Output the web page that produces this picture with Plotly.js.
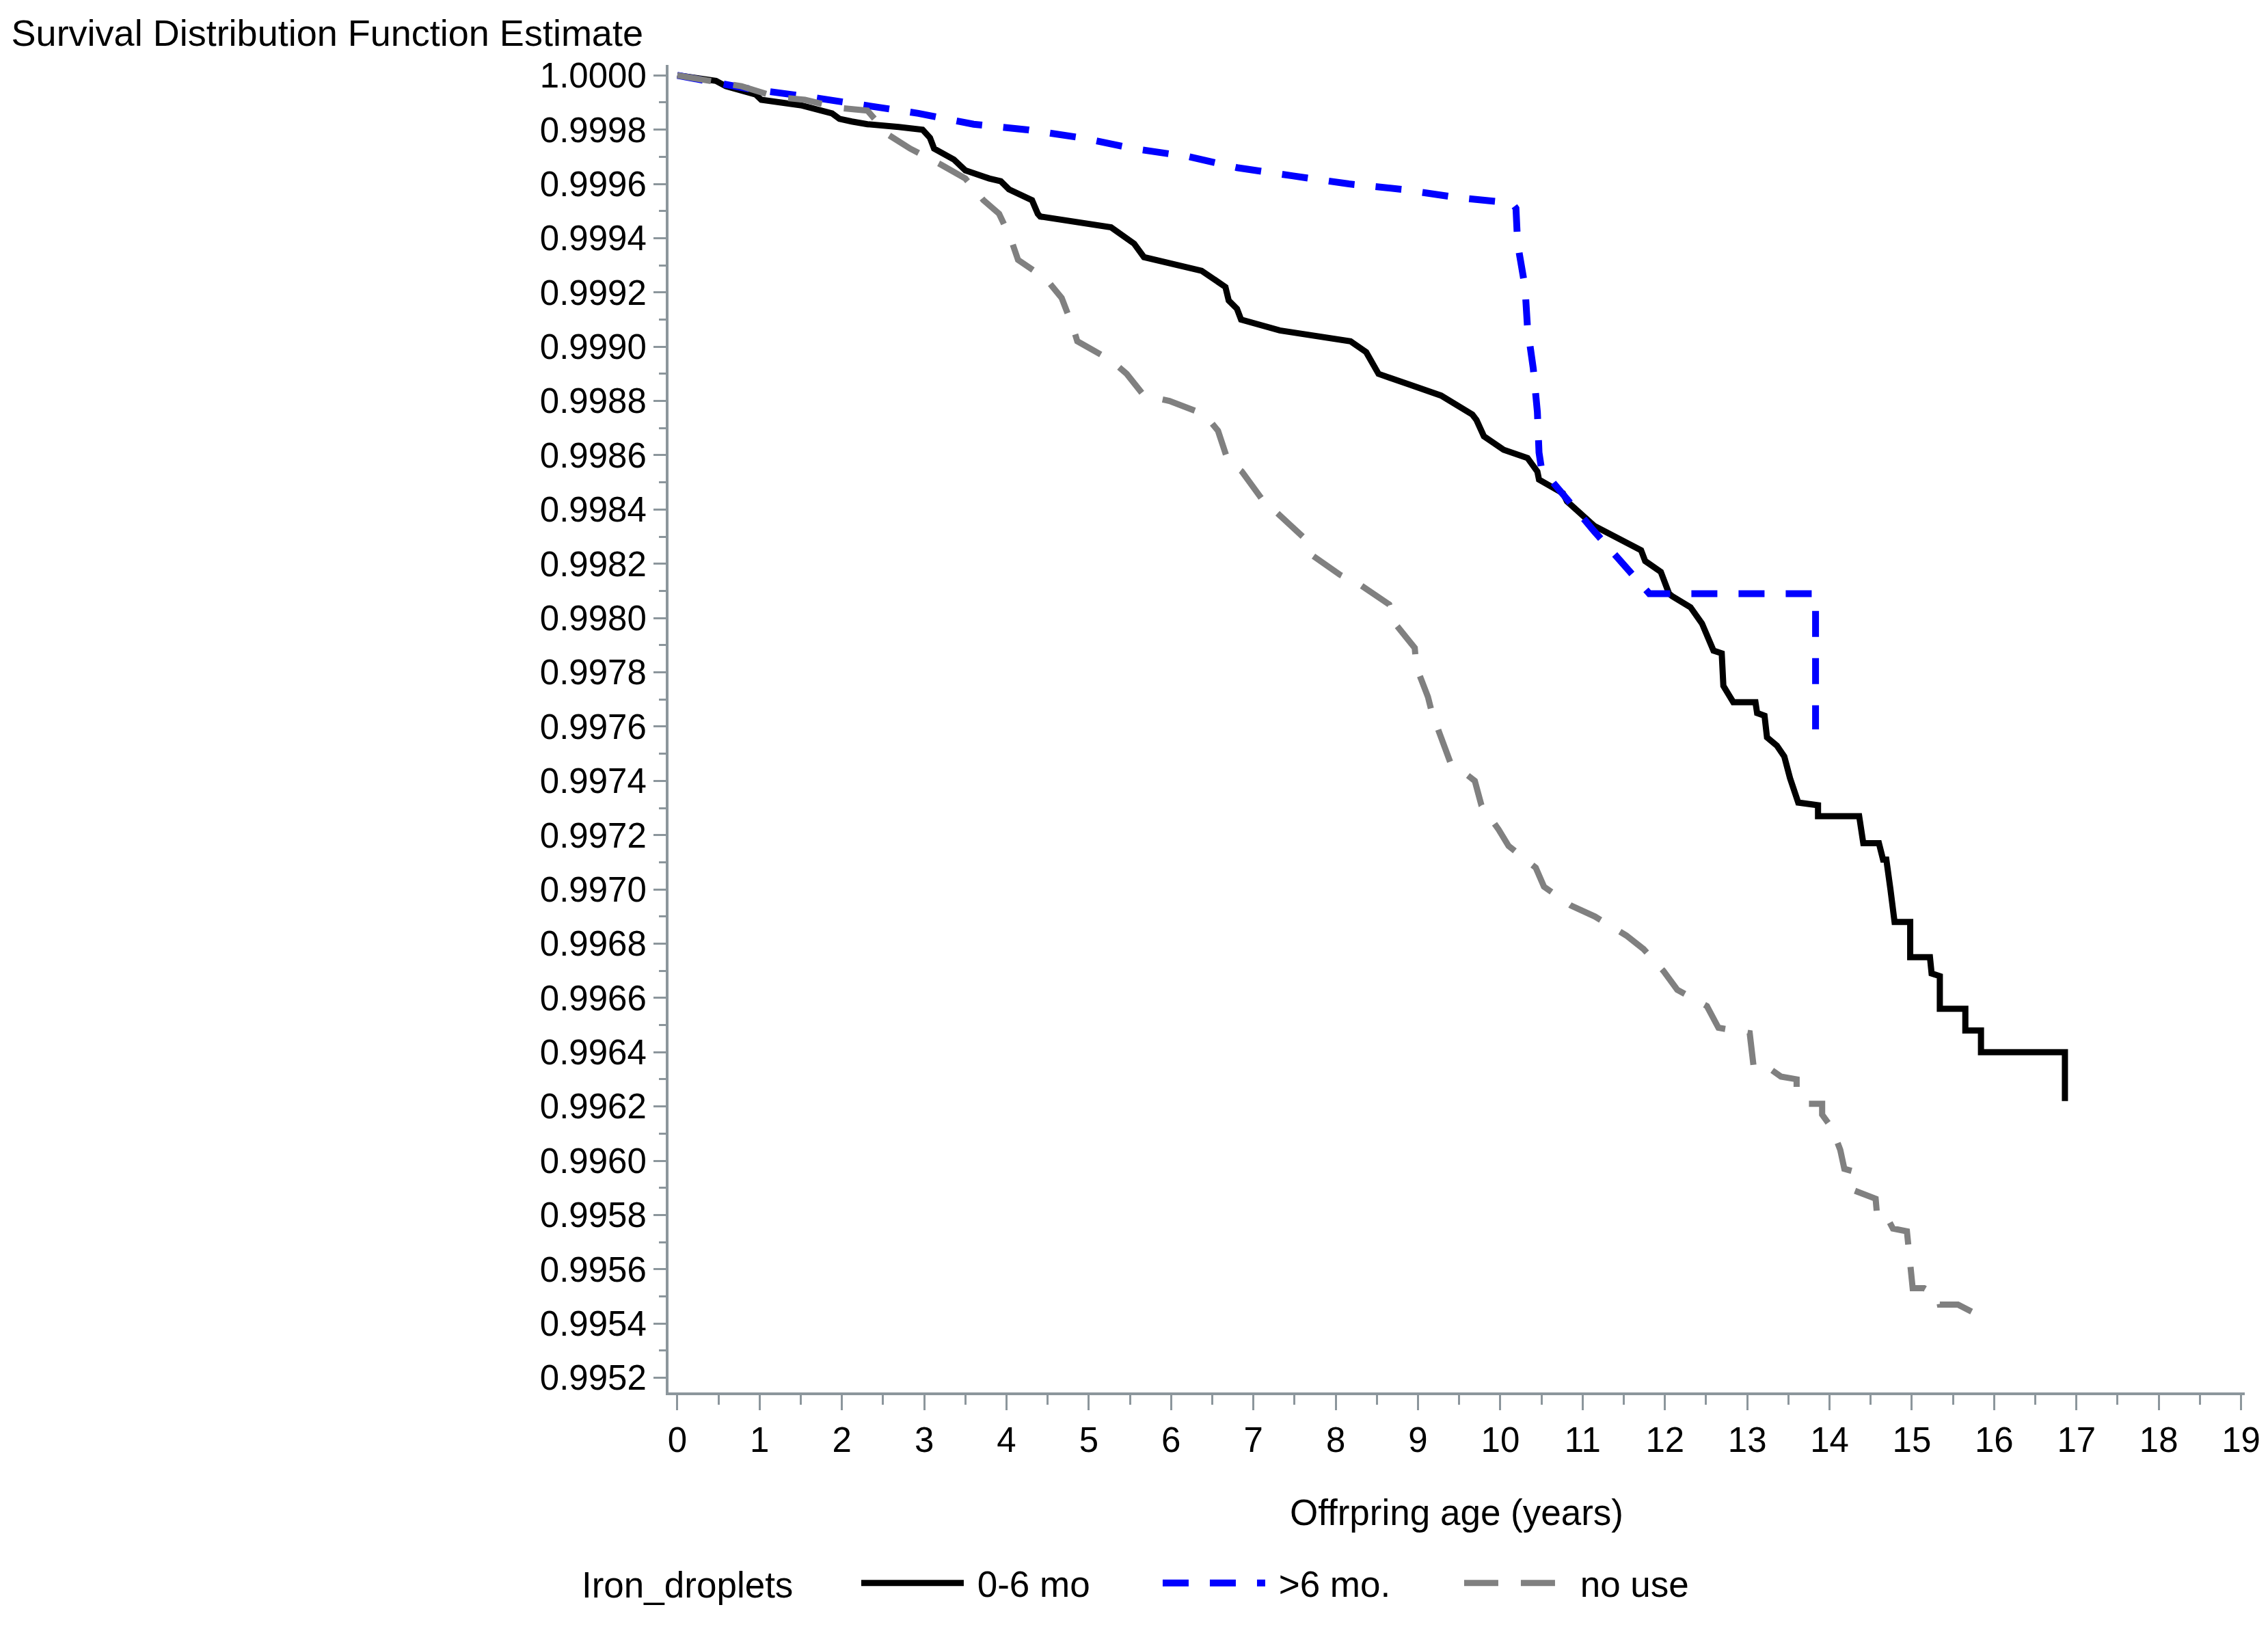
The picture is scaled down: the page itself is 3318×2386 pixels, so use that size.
<!DOCTYPE html>
<html>
<head>
<meta charset="utf-8">
<script src="https://cdn.plot.ly/plotly-3.0.1.min.js"></script>
<style>
  html, body { margin: 0; padding: 0; background: #ffffff; }
  #chart { width: 3318px; height: 2386px; }
</style>
</head>
<body>
<div id="chart"></div>
<script>
// ---- Data ----
const seriesNames = ["0-6 mo", ">6 mo.", "no use"];

const age_0_6 = [0, 0.47, 0.59, 0.95, 1.02, 1.21, 1.50, 1.88, 1.97, 2.12, 2.31, 2.69, 2.98, 3.07, 3.12, 3.36, 3.50, 3.79, 3.93, 4.03, 4.31, 4.38, 4.41, 5.27, 5.36, 5.55, 5.67, 6.22, 6.37, 6.66, 6.70, 6.80, 6.85, 7.32, 8.18, 8.37, 8.52, 8.90, 9.28, 9.66, 9.71, 9.80, 10.04, 10.33, 10.45, 10.47, 10.76, 10.81, 11.14, 11.71, 11.76, 11.95, 12.05, 12.09, 12.31, 12.45, 12.59, 12.69, 12.71, 12.83, 13.10, 13.12, 13.21, 13.24, 13.36, 13.45, 13.52, 13.62, 13.86, 13.86, 14.36, 14.41, 14.60, 14.65, 14.69, 14.74, 14.79, 14.98, 14.98, 15.22, 15.24, 15.34, 15.34, 15.65, 15.65, 15.84, 15.84, 16.86, 16.86];
const surv_0_6 = [1.00000, 0.99998, 0.99996, 0.99993, 0.99991, 0.99990, 0.99989, 0.99986, 0.99984, 0.99983, 0.99982, 0.99981, 0.99980, 0.99977, 0.99973, 0.99969, 0.99965, 0.99962, 0.99961, 0.99958, 0.99954, 0.99949, 0.99948, 0.99944, 0.99942, 0.99938, 0.99933, 0.99929, 0.99928, 0.99922, 0.99917, 0.99914, 0.99910, 0.99906, 0.99902, 0.99898, 0.99890, 0.99886, 0.99882, 0.99875, 0.99873, 0.99867, 0.99862, 0.99859, 0.99854, 0.99851, 0.99846, 0.99843, 0.99834, 0.99825, 0.99821, 0.99817, 0.99809, 0.99808, 0.99804, 0.99798, 0.99788, 0.99787, 0.99775, 0.99769, 0.99769, 0.99765, 0.99764, 0.99756, 0.99753, 0.99749, 0.99741, 0.99732, 0.99731, 0.99727, 0.99727, 0.99717, 0.99717, 0.99711, 0.99711, 0.99700, 0.99688, 0.99688, 0.99675, 0.99675, 0.99669, 0.99668, 0.99656, 0.99656, 0.99648, 0.99648, 0.99640, 0.99640, 0.99622];

const age_gt6 = [0, 0.88, 1.62, 2.28, 2.93, 3.60, 4.24, 4.91, 5.55, 6.22, 6.80, 7.47, 8.16, 8.80, 9.47, 10.14, 10.19, 10.21, 10.30, 10.33, 10.40, 10.45, 10.47, 10.50, 11.14, 11.81, 13.83, 13.83];
const surv_gt6 = [1.00000, 0.99995, 0.99992, 0.99989, 0.99986, 0.99982, 0.99980, 0.99977, 0.99973, 0.99970, 0.99966, 0.99963, 0.99960, 0.99958, 0.99955, 0.99953, 0.99951, 0.99938, 0.99922, 0.99907, 0.99892, 0.99876, 0.99861, 0.99855, 0.99832, 0.99809, 0.99809, 0.99759];

const age_none = [0, 0.45, 0.78, 1.21, 1.55, 1.97, 2.31, 2.57, 2.83, 3.21, 3.50, 3.72, 3.91, 4.05, 4.14, 4.48, 4.67, 4.81, 4.86, 5.27, 5.46, 5.67, 5.98, 6.41, 6.57, 6.69, 6.86, 7.10, 7.31, 7.60, 7.72, 8.05, 8.31, 8.65, 8.72, 8.96, 8.98, 9.12, 9.17, 9.31, 9.39, 9.69, 9.77, 9.98, 10.10, 10.43, 10.53, 10.86, 11.15, 11.53, 11.74, 11.98, 12.15, 12.51, 12.65, 13.03, 13.06, 13.08, 13.27, 13.41, 13.60, 13.60, 13.72, 13.91, 13.91, 14.03, 14.13, 14.18, 14.30, 14.30, 14.56, 14.58, 14.70, 14.77, 14.94, 14.96, 14.99, 15.01, 15.15, 15.32, 15.34, 15.56, 15.75, 15.75];
const surv_none = [1.00000, 0.99998, 0.99996, 0.99992, 0.99991, 0.99988, 0.99987, 0.99978, 0.99973, 0.99967, 0.99962, 0.99954, 0.99949, 0.99940, 0.99932, 0.99925, 0.99918, 0.99907, 0.99902, 0.99895, 0.99890, 0.99882, 0.99880, 0.99875, 0.99869, 0.99858, 0.99854, 0.99844, 0.99838, 0.99830, 0.99823, 0.99816, 0.99812, 0.99805, 0.99798, 0.99789, 0.99782, 0.99771, 0.99765, 0.99754, 0.99747, 0.99740, 0.99731, 0.99722, 0.99716, 0.99708, 0.99701, 0.99694, 0.99690, 0.99683, 0.99678, 0.99670, 0.99663, 0.99657, 0.99649, 0.99647, 0.99639, 0.99634, 0.99634, 0.99631, 0.99630, 0.99626, 0.99621, 0.99621, 0.99617, 0.99612, 0.99604, 0.99597, 0.99596, 0.99589, 0.99586, 0.99579, 0.99579, 0.99575, 0.99574, 0.99568, 0.99562, 0.99553, 0.99553, 0.99550, 0.99547, 0.99547, 0.99544, 0.99537];

const xTickVals = [0, 1, 2, 3, 4, 5, 6, 7, 8, 9, 10, 11, 12, 13, 14, 15, 16, 17, 18, 19];
const legendTitle = 'Iron_droplets';

// ---- Styles ----
const FONT = '"Liberation Sans", Arial, "DejaVu Sans", sans-serif';
const AXIS_COLOR = '#8c969c';
const NB = '\u00a0';

const traces = [
  { x: age_0_6, y: surv_0_6, name: NB + seriesNames[0], type: 'scatter', mode: 'lines',
    line: { color: '#000000', width: 9, dash: 'solid' } },
  { x: age_gt6, y: surv_gt6, name: NB + seriesNames[1], type: 'scatter', mode: 'lines',
    line: { color: '#0000ff', width: 10, dash: '38px,31px' } },
  { x: age_none, y: surv_none, name: NB + seriesNames[2], type: 'scatter', mode: 'lines',
    line: { color: '#808080', width: 9, dash: '50px,33px' } }
];

const layout = {
  width: 3318, height: 2386,
  margin: { l: 978, r: 34, t: 95, b: 349, pad: 0 },
  paper_bgcolor: '#ffffff', plot_bgcolor: '#ffffff',
  font: { family: FONT, size: 51, color: '#000000' },
  showlegend: true,
  title: {
    text: 'Survival Distribution Function Estimate',
    font: { family: FONT, size: 54, color: '#000000' },
    xref: 'container', x: 0.005, xanchor: 'left',
    yref: 'container', y: 0.980, yanchor: 'middle'
  },
  xaxis: {
    range: [-0.107, 19.045],
    tickmode: 'array', tickvals: xTickVals,
    ticks: 'outside', ticklen: 22, tickwidth: 3, tickcolor: AXIS_COLOR,
    minor: { dtick: 0.5, tick0: 0, ticks: 'outside', ticklen: 14, tickwidth: 3, tickcolor: AXIS_COLOR, showgrid: false },
    showline: true, linecolor: AXIS_COLOR, linewidth: 4,
    showgrid: false, zeroline: false,
    tickfont: { family: FONT, size: 51, color: '#000000' },
    title: { text: 'Offrpring age (years)', font: { family: FONT, size: 53, color: '#000000' }, standoff: 61 },
    automargin: false
  },
  yaxis: {
    range: [0.995146, 1.0000385],
    tick0: 0.9952, dtick: 0.0002, tickformat: '.4f',
    ticks: 'outside', ticklen: 18, tickwidth: 3, tickcolor: AXIS_COLOR,
    minor: { dtick: 0.0001, tick0: 0.9952, ticks: 'outside', ticklen: 10, tickwidth: 3, tickcolor: AXIS_COLOR, showgrid: false },
    showline: true, linecolor: AXIS_COLOR, linewidth: 4,
    showgrid: false, zeroline: false,
    tickfont: { family: FONT, size: 51, color: '#000000' },
    automargin: false
  },
  legend: {
    orientation: 'h',
    x: 0.1201, xanchor: 'left',
    y: -0.1436, yanchor: 'middle',
    font: { family: FONT, size: 53, color: '#000000' },
    itemwidth: 150,
    entrywidth: 276, entrywidthmode: 'pixels',
    bgcolor: 'rgba(0,0,0,0)', borderwidth: 0
  },
  annotations: [{
    text: legendTitle, showarrow: false,
    xref: 'paper', yref: 'paper',
    x: -0.0559, xanchor: 'left',
    y: -0.1449, yanchor: 'middle',
    font: { family: FONT, size: 53, color: '#000000' }
  }]
};

Plotly.newPlot('chart', traces, layout, { displayModeBar: false, staticPlot: true });
</script>
</body>
</html>
